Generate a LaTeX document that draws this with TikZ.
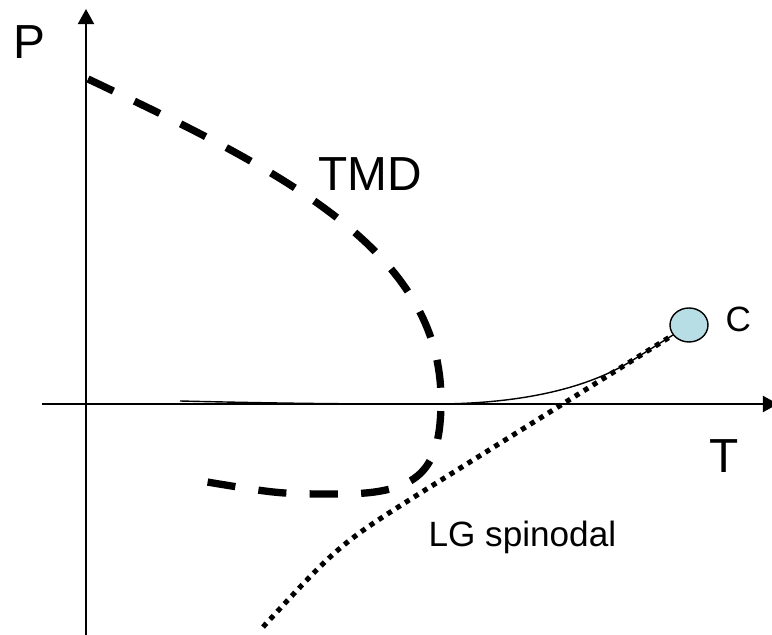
\documentclass[tikz,border=0pt]{standalone}
\usepackage{fontspec}
\setmainfont{Liberation Sans}
\usetikzlibrary{arrows.meta,shapes.geometric}
\definecolor{critfill}{RGB}{183,222,228}

\begin{document}
\begin{tikzpicture}[scale=1,
  axis/.style={line width=1.4pt, -{Triangle[length=10.7pt,width=11.4pt]}},
  tmdline/.style={line width=5.2pt, dash pattern=on 20pt off 16.6pt},
  spinline/.style={line width=3.6pt, dash pattern=on 3.6pt off 3.9pt},
  biglabel/.style={anchor=base, font=\fontsize{34}{40}\selectfont},
  smalllabel/.style={anchor=base, font=\fontsize{25}{30}\selectfont}]
  \useasboundingbox (-2.15,-5.775) rectangle (17.15,10.1);

  \coordinate (O) at (0,0);
  \coordinate (Pbot) at (0,-5.775);
  \coordinate (Ptop) at (0,9.875);
  \coordinate (Tleft) at (-1.1,0);
  \coordinate (Tright) at (17.3,0);

  \draw[axis] (Pbot) -- (Ptop);
  \draw[axis] (Tleft) -- (Tright);

  \node[ellipse, draw, line width=1pt, fill=critfill, minimum width=0.95cm,
        minimum height=0.85cm, inner sep=0pt] (crit) at (15.075,1.975) {};

  % TMD line
  \coordinate (M1) at (0.05,8.125);
  \coordinate (M2) at (8.875,0.1);
  \coordinate (M3) at (6.35,-2.25);
  \coordinate (M4) at (3.025,-1.95);
  \draw[tmdline] (M1) .. controls (4.85,5.85) and (8.875,3.85) .. (M2)
    .. controls (8.875,-1.65) and (8.35,-2.25) .. (M3)
    .. controls (4.85,-2.25) .. (M4);

  % spinodal
  \coordinate (S1) at (4.425,-5.575);
  \coordinate (S2) at (8.6,-2.075);
  \draw[spinline] (S1) .. controls (6.35,-3.4875) .. (S2) -- (crit.212);

  % line of density extrema
  \coordinate (L1) at (2.35,0.075);
  \coordinate (L2) at (8.85,0);
  \coordinate (L3) at (13.675,1.1);
  \draw[line width=1pt] (L1) .. controls (5.5,0) and (7,0) .. (L2)
    .. controls (10.8,0.02) and (12.475,0.35) .. (L3) -- (crit.212);

  \node[biglabel] (plabel) at (-1.425,8.625) {P};
  \node[biglabel] (tlabel) at (15.96,-1.725) {T};
  \node[biglabel] (tmdlabel) at (7.11,5.325) {TMD};
  \node[smalllabel] (clabel) at (16.31,1.8) {C};
  \node[smalllabel] (lglabel) at (10.91,-3.575) {LG spinodal};
\end{tikzpicture}
\end{document}
